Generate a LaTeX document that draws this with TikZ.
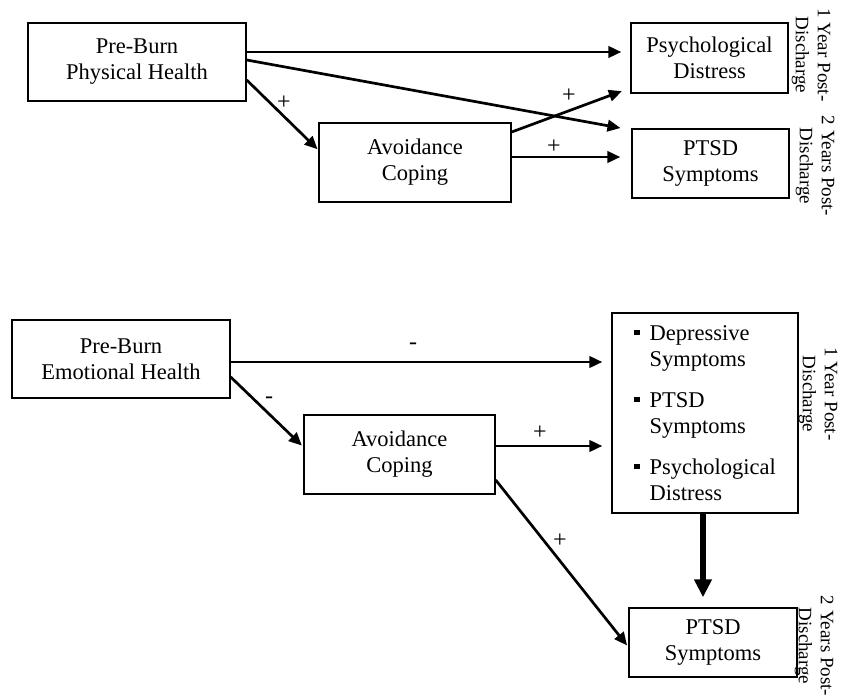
\documentclass[tikz,border=0pt]{standalone}
\usepackage{fontspec}
\setmainfont{Liberation Serif}
\usetikzlibrary{arrows.meta}
\begin{document}
\begin{tikzpicture}[x=1pt,y=-1pt,
  box/.style={draw, line width=1.4pt, align=center, inner sep=0pt,
    font=\fontsize{22.5}{26}\selectfont},
  arr/.style={line width=2.7pt, -{Triangle[length=13pt,width=11.5pt]}},
  thickarr/.style={line width=6pt, -{Triangle[length=18pt,width=17pt]}},
  sign/.style={font=\fontsize{24}{24}\selectfont, inner sep=0pt},
  rot/.style={rotate=-90, align=center, inner sep=0pt,
    font=\fontsize{19}{22}\selectfont}]
\useasboundingbox (0,0) rectangle (845,700);

% ---------- top panel ----------
\node[box, minimum width=218pt, minimum height=78pt] (phys) at (137,62) {Pre-Burn\\Physical Health};
\node[box, minimum width=192pt, minimum height=79pt] (avoidA) at (415,162.5) {Avoidance\\Coping};
\node[box, minimum width=157pt, minimum height=70pt] (pd) at (709.5,58) {Psychological\\Distress};
\node[box, minimum width=157pt, minimum height=69pt] (ptsdA) at (710.5,163.5) {PTSD\\Symptoms};
\node[rot] (yr1A) at (811,55) {1 Year Post-\\Discharge};
\node[rot] (yr2A) at (815,166) {2 Years Post-\\Discharge};

\draw[arr, shorten >=9pt] ([yshift=10pt]phys.east) -- ([yshift=6pt]pd.west);
\draw[arr, shorten >=11pt] ([yshift=2pt]phys.east) -- ([yshift=33.5pt]ptsdA.west);
\draw[arr, shorten >=1pt] ([yshift=-18pt]phys.east) -- ([yshift=12.5pt]avoidA.west);
\draw[arr, shorten >=9pt] ([yshift=30.5pt]avoidA.east) -- ([yshift=-30pt]pd.west);
\draw[arr, shorten >=11pt] ([yshift=5.5pt]avoidA.east) -- ([yshift=6.5pt]ptsdA.west);

\node[sign] (s1) at (284,103) {+};
\node[sign] (s2) at (569,96) {+};
\node[sign] (s3) at (554,147) {+};

% ---------- bottom panel ----------
\node[box, minimum width=218pt, minimum height=78pt] (emo) at (121,359) {Pre-Burn\\Emotional Health};
\node[box, minimum width=191pt, minimum height=79pt] (avoidB) at (399.5,454.5) {Avoidance\\Coping};
\node[box, minimum width=186pt, minimum height=200pt, align=left] (list) at (705,413)
  {\rule[5pt]{5.5pt}{5.5pt}\hspace{10pt}Depressive\\
   \hspace*{15.5pt}Symptoms\\[15pt]
   \rule[5pt]{5.5pt}{5.5pt}\hspace{10pt}PTSD\\
   \hspace*{15.5pt}Symptoms\\[15pt]
   \rule[5pt]{5.5pt}{5.5pt}\hspace{10pt}Psychological\\
   \hspace*{15.5pt}Distress};
\node[box, minimum width=168pt, minimum height=69pt] (ptsdB) at (713,642.5) {PTSD\\Symptoms};
\node[rot] (yr1B) at (818,394) {1 Year Post-\\Discharge};
\node[rot] (yr2B) at (814,646) {2 Years Post-\\Discharge};

\draw[arr, shorten >=9pt] ([yshift=-3pt]emo.east) -- ([yshift=51pt]list.west);
\draw[arr, shorten >=2pt] ([yshift=-18pt]emo.east) -- ([yshift=7.5pt]avoidB.west);
\draw[arr, shorten >=9pt] ([yshift=8.5pt]avoidB.east) -- ([yshift=-33pt]list.west);
\draw[arr, shorten >=2pt] ([yshift=-25.5pt]avoidB.east) -- ([yshift=-4.5pt]ptsdB.west);
\draw[thickarr, shorten >=10pt] ([xshift=-2pt]list.south) -- ([xshift=-10pt]ptsdB.north);

\node[sign] (s4) at (413,346) {-};
\node[sign] (s5) at (269,400) {-};
\node[sign] (s6) at (540,433) {+};
\node[sign] (s7) at (560,541) {+};
\end{tikzpicture}
\end{document}
